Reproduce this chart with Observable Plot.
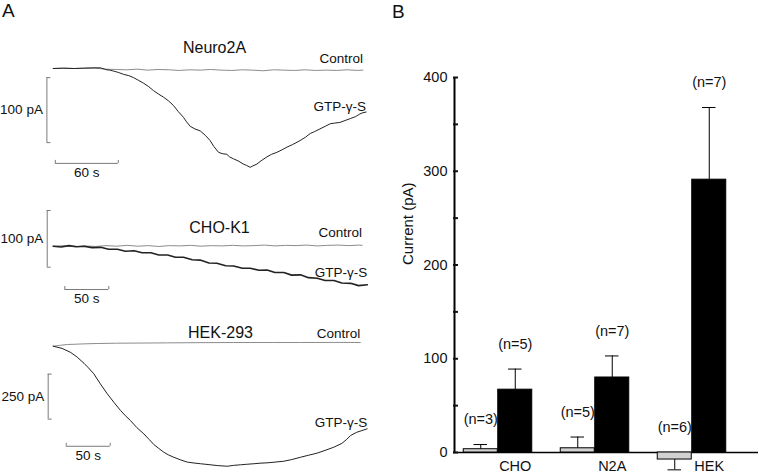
<!DOCTYPE html>
<html><head><meta charset="utf-8">
<script src="https://cdn.jsdelivr.net/npm/d3@7"></script>
<script src="https://cdn.jsdelivr.net/npm/@observablehq/plot@0.6"></script>
<style>
body{margin:0;background:#fff;}
#fig{position:relative;width:759px;height:474px;background:#fff;font-family:"Liberation Sans",Arial,sans-serif;overflow:hidden;color:#111}
#fig > div{position:absolute}
.letter{font-size:19px;line-height:19px;display:block}
</style></head><body>
<div id="fig"></div>
<script>
// ---------------- Panel A : whole-cell current traces (t in s, I in pA) ----------------
const n2aCtrlT = [0,10,20,30,40,50,60,70,80,90,100,110,120,130,140,150,160,170,180,190,200,210,220,230,240,250,260,270,280,290,295];
const n2aCtrlI = [0,0.5,0,0.5,0.5,-1,-1.5,-2,-1,-2.5,-1.5,-2,-3,-2,-2.5,-1.5,-2.5,-3,-2,-2.5,-3.5,-2,-2.5,-3,-2,-3,-2.5,-3,-2,-3,-2.5];
const n2aGtpT = [0,10,20,29,38,45,49,51,54,57.5,62,67,72,76.5,81,86,91,95.5,100,105,110,114.6,119,124,127,130.5,135,140,145,149.5,153,157.5,161,165.4,168,171.7,176,181,184,187.6,190,194,198,203.5,208,213,218,222.6,228,235,240,244.8,249,254,259,263.8,268,273,278,283,288,292,295,298];
const n2aGtpI = [0,0.5,0,0.5,1,1,-1,-2,-2.5,-4,-6,-9,-11,-14,-18,-22.6,-28,-34,-39,-44,-50,-57,-66,-75,-82,-89,-93,-96,-103,-111,-120,-129,-131,-132,-136,-139,-142,-147,-149,-152,-150,-147,-142,-136,-132,-129,-125,-121,-117,-111,-106,-100,-97,-93,-89,-85,-84,-83,-80,-77,-74,-70,-68,-67];

const choCtrlT = [0,12,24,36,48,60,72,84,96,108,120,132,144,156,168,180,192,204,216,228,240,252,264,276,288,300,312,324,336,348,351];
const choCtrlI = [0,1,-1,0.5,-0.5,1,0,1.5,0,1,-0.5,1,0.5,1.5,0,1,0.5,1.5,0.5,1,2,0.5,1.5,1,2,0.5,1.5,2,1,2,1.5];
const choGtpT = [0,9,18,27,35,44,54,63,73,82,92,101,111,120,130,139,148,158,167,177,186,196,205,215,224,234,243,252,262,271,281,290,300,309,319,328,338,347,357];
const choGtpI = [0,-1.5,1,-1,0,-2.5,-2,-5.5,-5.5,-9,-8,-11.5,-11.5,-15.5,-15.5,-19.5,-19.5,-24,-24.5,-29.5,-30,-34.5,-35,-39,-39,-42.5,-42,-46.5,-46.5,-51,-50.5,-55.5,-56.5,-60.5,-60.5,-65,-65.5,-69.5,-68];

const hekCtrlT = [0,8,16,25,35,50,72,100,130,160,205,250,281,320,349];
const hekCtrlI = [0,5,9.4,11,13,15,16.7,17.5,18.5,19.5,20.4,20.4,20.4,21,20.4];
const hekGtpT = [0,10,20,27.3,35,40,46.1,53,61.4,69,76.5,82,87.8,95,103,109,114.3,120,125.7,131,137,145,152.3,160,167.4,177,186.4,197.7,205,212.8,220,228,235,243,252,262,271,281,290,300,310,319,328,333,338,345,350,356.8];
const hekGtpI = [0,-12,-35,-61,-95,-120,-153,-205,-264,-312,-357,-386,-413,-452,-487,-518,-546,-568,-589,-604,-617,-632,-644,-649,-653,-658,-663,-667,-662,-659,-656,-653,-650,-648,-644,-639,-630,-617,-606,-594,-577,-561,-540,-520,-496,-478,-470,-459];

const traceTitles = ["Neuro2A","CHO-K1","HEK-293"];
const seriesLabels = ["Control","GTP-\u03b3-S"];
const ampBars = [100,100,250];     // pA
const timeBars = [60,50,50];       // s

// ---------------- Panel B : mean current (pA) ----------------
const cells = ["CHO","N2A","HEK"];
const ctrlMean = [3.5,4.5,-7.5];
const ctrlErr = [5,12,-11];
const ctrlN = [3,5,6];
const gtpMean = [67,80,291];
const gtpErr = [22,23,77];
const gtpN = [5,7,7];
const yTicks = [0,50,100,150,200,250,300,350,400];

const fig = document.getElementById("fig");
const FONT = '"Liberation Sans", Arial, sans-serif';
const CTRL_COLOR = "#8c8c8c", GTP_COLOR = "#222", BAR_COLOR = "#7a7a7a";
const pts = (T, I) => T.map((t, k) => ({t, i: I[k]}));

function place(el, left, top) {
  const d = document.createElement("div");
  d.style.left = left + "px"; d.style.top = top + "px";
  d.appendChild(el); fig.appendChild(d);
}

function tracePanel(o) {
  const ctrl = pts(o.ctrlT, o.ctrlI), gtp = pts(o.gtpT, o.gtpI);
  const lastC = ctrl[ctrl.length - 1], lastG = gtp[gtp.length - 1];
  const sb = o.sb;
  return Plot.plot({
    width: 380, height: o.height, margin: 0,
    style: {fontFamily: FONT, background: "transparent", overflow: "visible"},
    x: {domain: o.xDomain, range: o.xRange, axis: null},
    y: {domain: o.yDomain, range: o.yRange, axis: null},
    marks: [
      Plot.line(ctrl, {x: "t", y: "i", stroke: CTRL_COLOR, strokeWidth: 1}),
      Plot.line(gtp, {x: "t", y: "i", stroke: GTP_COLOR, strokeWidth: o.gtpWidth}),
      Plot.text([o.title], {frameAnchor: "top", dx: o.titleDx, dy: o.titleDy, fontSize: 16, fill: "#111"}),
      Plot.text([lastC], {x: "t", y: "i", text: () => seriesLabels[0], textAnchor: "end", lineAnchor: "bottom", dy: o.ctrlDy, fontSize: 13.5, fill: "#111"}),
      Plot.text([lastG], {x: "t", y: "i", text: () => seriesLabels[1], textAnchor: "end", lineAnchor: "bottom", dy: o.gtpDy, fontSize: 13.5, fill: "#111"}),
      // amplitude scale bar
      Plot.ruleX([sb.tBar], {y1: sb.iTop, y2: sb.iTop - o.amp, stroke: BAR_COLOR, strokeWidth: 1}),
      Plot.ruleY([sb.iTop, sb.iTop - o.amp], {x1: sb.tBar, x2: sb.tBar + sb.tickT, stroke: BAR_COLOR, strokeWidth: 1}),
      Plot.text([o.amp + " pA"], {x: sb.tBar, y: sb.iTop - o.amp / 2, dx: -4, textAnchor: "end", fontSize: 13.5, fill: "#111"}),
      // time scale bar
      Plot.ruleY([sb.iTime], {x1: sb.t0, x2: sb.t0 + o.dur, stroke: BAR_COLOR, strokeWidth: 1}),
      Plot.ruleX([sb.t0, sb.t0 + o.dur], {y1: sb.iTime, y2: sb.iTime + sb.tickI, stroke: BAR_COLOR, strokeWidth: 1}),
      Plot.text([o.dur + " s"], {x: sb.t0 + o.dur / 2, y: sb.iTime, dy: 4, lineAnchor: "top", fontSize: 13.5, fill: "#111"})
    ]
  });
}

place(tracePanel({
  title: traceTitles[0], height: 180, ctrlT: n2aCtrlT, ctrlI: n2aCtrlI, gtpT: n2aGtpT, gtpI: n2aGtpI,
  xDomain: [0, 300], xRange: [52.7, 367.7], yDomain: [0, -160], yRange: [68, 172],
  titleDx: 24, titleDy: 41.5, ctrlDy: -7, gtpDy: -1, gtpWidth: 1,
  amp: ampBars[0], dur: timeBars[0],
  sb: {tBar: -6, iTop: -14, tickT: 3.8, t0: 2, iTime: -146, tickI: 4.6}
}), 0, 0);

place(tracePanel({
  title: traceTitles[1], height: 130, ctrlT: choCtrlT, ctrlI: choCtrlI, gtpT: choGtpT, gtpI: choGtpI,
  xDomain: [0, 350], xRange: [52.7, 360.7], yDomain: [0, -100], yRange: [65.7, 122.4],
  titleDx: 29, titleDy: 41.5, ctrlDy: -8, gtpDy: -8, gtpWidth: 1.6,
  amp: ampBars[1], dur: timeBars[1],
  sb: {tBar: -6.8, iTop: 63, tickT: 4.5, t0: 13.2, iTime: -76.4, tickI: 5.3}
}), 0, 180);

place(tracePanel({
  title: traceTitles[2], height: 164, ctrlT: hekCtrlT, ctrlI: hekCtrlI, gtpT: hekGtpT, gtpI: hekGtpI,
  xDomain: [0, 350], xRange: [52.7, 360.7], yDomain: [0, -500], yRange: [35.7, 125.7],
  titleDx: 30, titleDy: 16.5, ctrlDy: -5, gtpDy: -2, gtpWidth: 1,
  amp: ampBars[2], dur: timeBars[2],
  sb: {tBar: -5.7, iTop: -155, tickT: 4.5, t0: 14.8, iTime: -556, tickI: 16.7}
}), 0, 310);

// ---------------- Panel B plot ----------------
const rows = cells.flatMap((c, k) => [
  {cell: c, cond: "Control", mean: ctrlMean[k], err: ctrlErr[k], n: ctrlN[k]},
  {cell: c, cond: "GTP", mean: gtpMean[k], err: gtpErr[k], n: gtpN[k]}
]);
const ctrlRows = rows.filter(d => d.cond === "Control");
const gtpRows = rows.filter(d => d.cond === "GTP");
const half = 48.75, bw = 34.5, off = 17.25, cap = 14;

const plotB = Plot.plot({
  width: 379, height: 474, marginLeft: 73, marginTop: 77, marginBottom: 22, marginRight: 1,
  style: {fontFamily: FONT, background: "transparent", overflow: "visible"},
  x: {type: "band", domain: cells, range: [67.75, 360.25], padding: 0},
  y: {domain: [0, 400], range: [452, 77]},
  marks: [
    Plot.ruleY([0], {stroke: "#000", strokeWidth: 1.3}),
    Plot.barY(ctrlRows, {x: "cell", y1: 0, y2: "mean", fill: "#d2d2d2", stroke: "#000", strokeWidth: 1, insetLeft: half - bw, insetRight: half}),
    Plot.barY(gtpRows, {x: "cell", y1: 0, y2: "mean", fill: "#000", stroke: "#000", strokeWidth: 1, insetLeft: half, insetRight: half - bw}),
    Plot.ruleX(ctrlRows, {x: "cell", y1: "mean", y2: d => d.mean + d.err, dx: -off, stroke: "#000", strokeWidth: 1}),
    Plot.ruleX(gtpRows, {x: "cell", y1: "mean", y2: d => d.mean + d.err, dx: off, stroke: "#000", strokeWidth: 1}),
    Plot.tickY(ctrlRows, {x: "cell", y: d => d.mean + d.err, dx: -off, insetLeft: half - cap / 2, insetRight: half - cap / 2, stroke: "#000", strokeWidth: 1}),
    Plot.tickY(gtpRows, {x: "cell", y: d => d.mean + d.err, dx: off, insetLeft: half - cap / 2, insetRight: half - cap / 2, stroke: "#000", strokeWidth: 1}),
    Plot.text(ctrlRows, {x: "cell", y: d => Math.max(d.mean + d.err, 0), dx: -off, dy: -25, text: d => `(n=${d.n})`, fontSize: 14.5, fill: "#111"}),
    Plot.text(gtpRows, {x: "cell", y: d => Math.max(d.mean + d.err, 0), dx: off, dy: -25, text: d => `(n=${d.n})`, fontSize: 14.5, fill: "#111"}),
    Plot.ruleX([cells[0]], {x: d => d, y1: 0, y2: 400, dx: -43.5, stroke: "#000", strokeWidth: 2}),
    Plot.axisY({ticks: yTicks, tickFormat: d => (d % 100 === 0 ? String(d) : ""), tickSize: -5, tickPadding: 11, strokeWidth: 2, fontSize: 14.5, label: null, fill: "#111"}),
    Plot.axisX({tickSize: 0, tickPadding: 8, dx: off, fontSize: 14.5, label: null, fill: "#111"}),
    Plot.text(["Current (pA)"], {frameAnchor: "left", rotate: -90, dx: -45, fontSize: 15, fill: "#111"})
  ]
});
place(plotB, 380, 0);

// panel letters
const la = document.createElement("span"); la.className = "letter"; la.textContent = "A"; place(la, 2, 1);
const lb = document.createElement("span"); lb.className = "letter"; lb.textContent = "B"; place(lb, 392, 2);
</script>
</body></html>
